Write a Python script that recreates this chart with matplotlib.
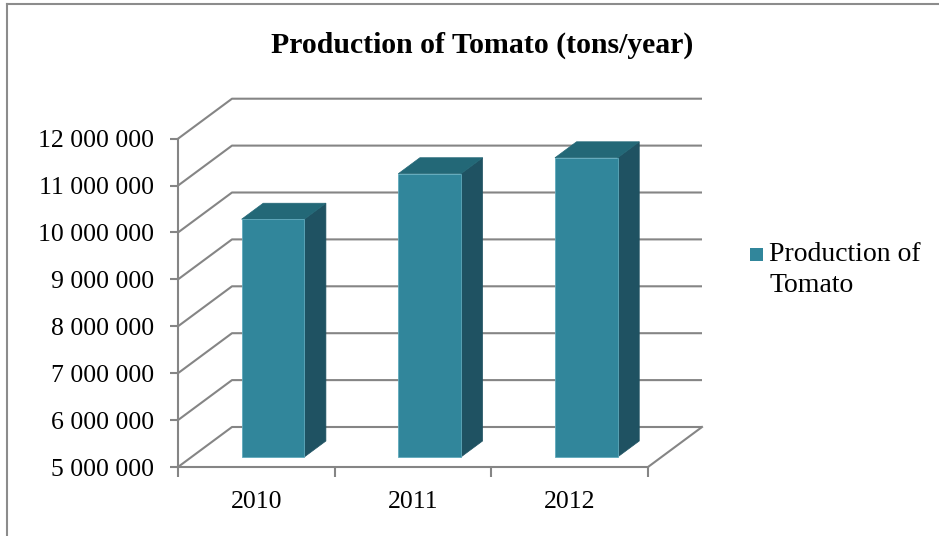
import matplotlib
matplotlib.use("Agg")
import matplotlib.pyplot as plt
from matplotlib.patches import Polygon, Rectangle
from matplotlib.lines import Line2D
from matplotlib.ticker import FuncFormatter

# ---- data ----
categories = ["2010", "2011", "2012"]
production = [10070000, 11040000, 11380000]
y_ticks = [5000000, 6000000, 7000000, 8000000, 9000000, 10000000, 11000000, 12000000]
title = "Production of Tomato (tons/year)"
legend_label = "Production of\nTomato"

# ---- style ----
FONT = "Liberation Serif"
C_FRONT = "#31869B"
C_TOP = "#236877"
C_SIDE = "#1F5262"
C_GRID = "#858585"
W, H = 939, 536

fig = plt.figure(figsize=(W / 100, H / 100), dpi=100)
fig.patch.set_facecolor("white")

# axes = front plane of the pseudo-3D chart
left_px, right_px, top_px, bot_px = 178, 648, 138.7, 467
ax = fig.add_axes([left_px / W, (H - bot_px) / H, (right_px - left_px) / W, (bot_px - top_px) / H])
ax.set_xlim(-0.5, len(categories) - 0.5)
ax.set_ylim(y_ticks[0], y_ticks[-1])
ax.patch.set_visible(False)

# depth offset in data units
px_per_cat = (right_px - left_px) / len(categories)
px_per_val = (bot_px - top_px) / (y_ticks[-1] - y_ticks[0])
DX = 54 / px_per_cat
DY = 40 / px_per_val

x_lo, x_hi = -0.5, len(categories) - 0.5
ymin = y_ticks[0]
LW = 1.5

# back wall gridlines + left wall diagonals
for v in y_ticks:
    ax.plot([x_lo, x_lo + DX, x_hi + DX], [v, v + DY, v + DY], color=C_GRID, lw=LW,
            clip_on=False, zorder=1, solid_capstyle="butt")
# floor right edge
ax.plot([x_hi, x_hi + DX], [ymin, ymin + DY], color=C_GRID, lw=LW, clip_on=False, zorder=1)

# bars
f0, df, bw, shift = 0.25, 0.40, 0.40, 0.02
for i, v in enumerate(production):
    x0 = i + shift - bw / 2 + f0 * DX
    x1 = x0 + bw
    y0 = ymin + f0 * DY
    y1 = v + f0 * DY
    ddx, ddy = df * DX, df * DY
    side = Polygon([(x1, y0), (x1 + ddx, y0 + ddy), (x1 + ddx, y1 + ddy), (x1, y1)],
                   closed=True, facecolor=C_SIDE, edgecolor=C_SIDE, lw=0.5, clip_on=False, zorder=3)
    top = Polygon([(x0, y1), (x1, y1), (x1 + ddx, y1 + ddy), (x0 + ddx, y1 + ddy)],
                  closed=True, facecolor=C_TOP, edgecolor=C_TOP, lw=0.5, clip_on=False, zorder=3)
    front = Polygon([(x0, y0), (x1, y0), (x1, y1), (x0, y1)],
                    closed=True, facecolor=C_FRONT, edgecolor="#5FA9BC", lw=0.6, clip_on=False, zorder=4)
    for p in (side, top, front):
        ax.add_patch(p)

# spines / ticks
for s in ("top", "right"):
    ax.spines[s].set_visible(False)
for s in ("left", "bottom"):
    ax.spines[s].set_color(C_GRID)
    ax.spines[s].set_linewidth(LW)
    ax.spines[s].set_zorder(2)

ax.set_yticks(y_ticks)
ax.yaxis.set_major_formatter(FuncFormatter(lambda v, p: f"{int(v):,}".replace(",", " ")))
ax.tick_params(axis="y", direction="out", length=6, width=LW, color=C_GRID, pad=11,
               labelsize=18.5, labelcolor="black")
ax.set_xticks(range(len(categories)))
ax.set_xticklabels(categories)
ax.set_xticks([x_lo + k for k in range(len(categories) + 1)], minor=True)
ax.tick_params(axis="x", which="major", length=0, pad=17, labelsize=18.5, labelcolor="black")
ax.tick_params(axis="x", which="minor", direction="out", length=7, width=LW, color=C_GRID)
for lab in ax.get_xticklabels() + ax.get_yticklabels():
    lab.set_fontfamily(FONT)

# title
fig.text(482 / W, 1 - 45 / H, title, ha="center", va="center", fontsize=21.4,
         fontweight="bold", family=FONT)

# legend
fig.patches.append(Rectangle((750 / W, 1 - 261 / H), 13 / W, 13 / H, transform=fig.transFigure,
                             facecolor=C_FRONT, edgecolor="none"))
fig.text(769 / W, 1 - 242 / H, legend_label, ha="left", va="top", fontsize=20,
         family=FONT, linespacing=1.33)

# outer border (left and top)
fig.add_artist(Line2D([7 / W, 7 / W], [0, 1 - 4 / H], color="#8C8C8C", lw=1.5, transform=fig.transFigure))
fig.add_artist(Line2D([7 / W, 938 / W], [1 - 4 / H, 1 - 4 / H], color="#8C8C8C", lw=1.5, transform=fig.transFigure))

fig.savefig("out.png", dpi=100)
